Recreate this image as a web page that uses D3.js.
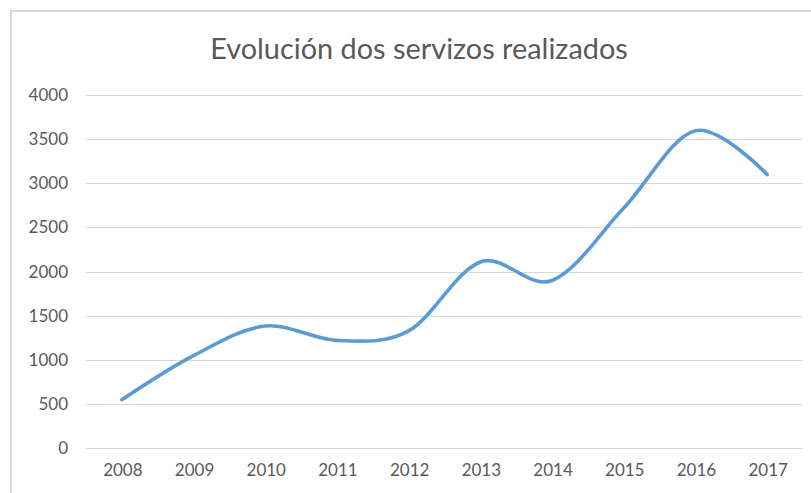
<!DOCTYPE html>
<html><head><meta charset="utf-8">
<script src="https://cdn.jsdelivr.net/npm/d3@7"></script>
<style>body{margin:0;background:#fff;} svg{display:block;}</style>
</head><body>
<svg id="c" width="811" height="493"></svg>
<script>
const title = "Evolución dos servizos realizados";
const years = ["2008","2009","2010","2011","2012","2013","2014","2015","2016","2017"];
const servizos = [550, 1050, 1385, 1222, 1330, 2110, 1900, 2720, 3595, 3100];
const yTicks = [0, 500, 1000, 1500, 2000, 2500, 3000, 3500, 4000];

const svg = d3.select("#c");
const font = "Lato, 'Open Sans', sans-serif";
const textColor = "#595959";

// outer chart border
svg.append("rect").attr("x", 11).attr("y", 11).attr("width", 830).attr("height", 500)
  .attr("fill", "#fff").attr("stroke", "#d9d9d9").attr("stroke-width", 2);

const x = d3.scaleBand().domain(years).range([86, 803]);
const y = d3.scaleLinear().domain([0, 4000]).range([448.3, 95]);

// gridlines
svg.append("g").selectAll("line").data(yTicks).join("line")
  .attr("x1", 86).attr("x2", 803)
  .attr("y1", d => Math.round(y(d)) + 0.5).attr("y2", d => Math.round(y(d)) + 0.5)
  .attr("stroke", "#d9d9d9").attr("stroke-width", 1);

// y axis labels
const yAxis = d3.axisLeft(y).tickValues(yTicks).tickSize(0).tickPadding(0).tickFormat(d3.format("d"));
const gy = svg.append("g").attr("transform", "translate(68,0)").call(yAxis);
gy.select(".domain").remove();
gy.selectAll("text").attr("font-family", font).attr("font-size", 17).attr("fill", textColor);

// x axis labels
const xAxis = d3.axisBottom(x).tickSize(0).tickPadding(0);
const gx = svg.append("g").attr("transform", "translate(1,464)").call(xAxis);
gx.select(".domain").remove();
gx.selectAll("text").attr("font-family", font).attr("font-size", 17).attr("fill", textColor);

// title
const t = svg.append("text").attr("x", 419).attr("y", 59).attr("text-anchor", "middle")
  .attr("font-family", font).attr("font-size", 26).attr("fill", textColor).text(title);
const w = t.node().getComputedTextLength();
t.attr("font-size", 26 * 418 / w);

// line
const line = d3.line()
  .x((d, i) => x(years[i]) + x.bandwidth() / 2)
  .y(d => y(d))
  .curve(d3.curveCardinal.tension(0));
svg.append("path").datum(servizos).attr("d", line)
  .attr("fill", "none").attr("stroke", "#5b9bd5").attr("stroke-width", 3.6)
  .attr("stroke-linecap", "round").attr("stroke-linejoin", "round");
</script>
</body></html>
